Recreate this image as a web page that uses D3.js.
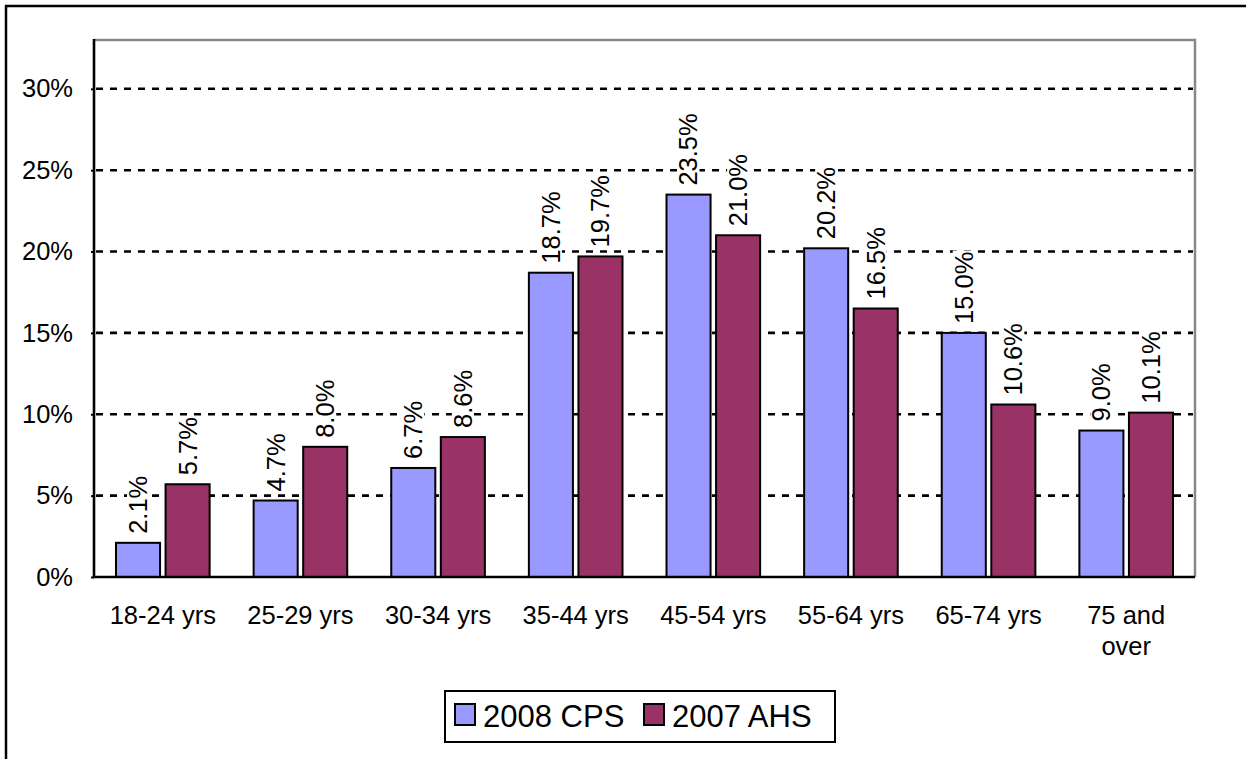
<!DOCTYPE html>
<html>
<head>
<meta charset="utf-8">
<script src="https://cdn.jsdelivr.net/npm/d3@7"></script>
<style>
  html, body { margin: 0; padding: 0; background: #fff; }
  svg { display: block; }
  text { font-family: "Liberation Sans", Arial, sans-serif; fill: #000; }
</style>
</head>
<body>
<svg id="chart" width="1246" height="759"></svg>
<script>
const categories = ["18-24 yrs", "25-29 yrs", "30-34 yrs", "35-44 yrs", "45-54 yrs", "55-64 yrs", "65-74 yrs", "75 and over"];
const seriesNames = ["2008 CPS", "2007 AHS"];
const cps2008 = [2.1, 4.7, 6.7, 18.7, 23.5, 20.2, 15.0, 9.0];
const ahs2007 = [5.7, 8.0, 8.6, 19.7, 21.0, 16.5, 10.6, 10.1];
const yTicks = [0, 5, 10, 15, 20, 25, 30];
const colors = ["#9999FF", "#993366"];

(function () {
const svg = d3.select("#chart");
const pL = 94, pR = 1195, pT = 40, pB = 577;

// outer border (clipped by page edge)
svg.append("rect").attr("x", 6).attr("y", 6).attr("width", 1260).attr("height", 780)
  .attr("fill", "none").attr("stroke", "#000").attr("stroke-width", 2.5);

const x0 = d3.scaleBand().domain(categories).range([pL, pR]).padding(0);
const bw = x0.bandwidth();
const x1 = d3.scaleBand().domain(seriesNames).range([22, bw - 22]).paddingInner(0.111).paddingOuter(0);
const y = d3.scaleLinear().domain([0, 33]).range([pB, pT]);

// plot border (top/right gray)
svg.append("path")
  .attr("d", `M${pL},${pT}H${pR}V${pB}`)
  .attr("fill", "none").attr("stroke", "#888").attr("stroke-width", 2.5);

// gridlines
svg.append("g").selectAll("line").data(yTicks.filter(d => d > 0)).join("line")
  .attr("x1", pL + 2).attr("x2", pR - 2)
  .attr("y1", d => y(d)).attr("y2", d => y(d))
  .attr("stroke", "#000").attr("stroke-width", 2.6).attr("stroke-dasharray", "7,7");

// bars
const data = categories.map((c, i) => ({ c, vals: [cps2008[i], ahs2007[i]] }));
const groups = svg.append("g").selectAll("g").data(data).join("g")
  .attr("transform", d => `translate(${x0(d.c)},0)`);
groups.selectAll("rect").data(d => d.vals.map((v, j) => ({ v, s: seriesNames[j], j }))).join("rect")
  .attr("x", d => x1(d.s)).attr("width", x1.bandwidth())
  .attr("y", d => y(d.v)).attr("height", d => y(0) - y(d.v))
  .attr("fill", d => colors[d.j]).attr("stroke", "#000").attr("stroke-width", 2);

// value labels with white backgrounds
const lbl = groups.selectAll("g.lbl").data(d => d.vals.map((v, j) => ({ v, s: seriesNames[j], j }))).join("g")
  .attr("class", "lbl")
  .attr("transform", d => `translate(${x1(d.s) + x1.bandwidth() / 2},${y(d.v) - 9}) rotate(-90)`);
const bg = lbl.append("rect").attr("fill", "#fff");
lbl.append("text")
  .attr("dy", "0.35em")
  .attr("text-anchor", "start")
  .attr("font-size", "25.5px")
  .text(d => d.v.toFixed(1) + "%");
lbl.each(function () {
  const g = d3.select(this);
  const len = g.select("text").node().getComputedTextLength();
  g.select("rect").attr("x", -1).attr("y", -11).attr("width", len + 2).attr("height", 22);
});

// y axis
const yAxis = d3.axisLeft(y).tickValues(yTicks).tickSize(3).tickPadding(18).tickFormat(d => d + "%");
const ya = svg.append("g").attr("transform", `translate(${pL},0)`).call(yAxis);
ya.select(".domain").remove();
ya.selectAll(".tick line").attr("stroke", "#000").attr("stroke-width", 2);
ya.selectAll(".tick text").attr("font-size", "25.5px").attr("font-family", "Liberation Sans, Arial, sans-serif").attr("fill", "#000");
svg.append("line").attr("x1", pL).attr("x2", pL).attr("y1", pT - 1).attr("y2", pB + 1)
  .attr("stroke", "#000").attr("stroke-width", 2.6);

// x axis
const xAxis = d3.axisBottom(x0).tickSize(0).tickPadding(0);
const xa = svg.append("g").attr("transform", `translate(0,${pB})`).call(xAxis);
xa.select(".domain").remove();
xa.selectAll(".tick text").remove();
xa.selectAll(".tick").each(function(d) {
  const t = d3.select(this).append("text").attr("text-anchor", "middle").attr("font-size", "25.5px")
    .attr("fill", "#000").attr("font-family", "Liberation Sans, Arial, sans-serif");
  const lines = d === "75 and over" ? ["75 and", "over"] : [d];
  lines.forEach((ln, i) => t.append("tspan").attr("x", 0).attr("y", 47 + i * 31).text(ln));
});
svg.append("line").attr("x1", pL - 1).attr("x2", pR).attr("y1", pB).attr("y2", pB)
  .attr("stroke", "#000").attr("stroke-width", 2.6);

// legend
const lg = svg.append("g");
lg.append("rect").attr("x", 445).attr("y", 691).attr("width", 390).attr("height", 51)
  .attr("fill", "#fff").attr("stroke", "#000").attr("stroke-width", 2);
const legendItems = [{ n: seriesNames[0], c: colors[0], sx: 455, tx: 483 }, { n: seriesNames[1], c: colors[1], sx: 644, tx: 672 }];
legendItems.forEach(it => {
  lg.append("rect").attr("x", it.sx).attr("y", 704).attr("width", 20).attr("height", 21)
    .attr("fill", it.c).attr("stroke", "#000").attr("stroke-width", 2);
  lg.append("text").attr("x", it.tx).attr("y", 727).attr("font-size", "31px").text(it.n);
});
})();
</script>
</body>
</html>
